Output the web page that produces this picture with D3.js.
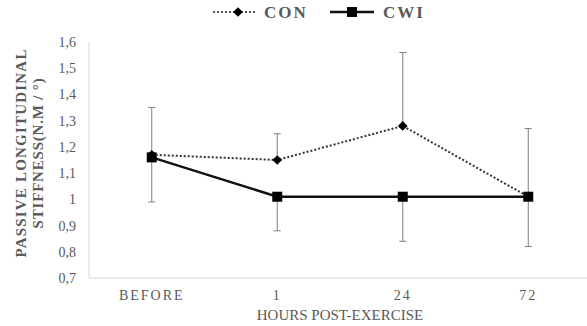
<!DOCTYPE html>
<html>
<head>
<meta charset="utf-8">
<script src="https://cdn.jsdelivr.net/npm/d3@7"></script>
<style>
  html, body { margin: 0; padding: 0; background: #fff; }
  svg { display: block; font-family: "Liberation Serif", "Times New Roman", serif; }
</style>
</head>
<body>
<svg id="chart" width="587" height="326"></svg>
<script>
// Time points after exercise
const categories = ["BEFORE", "1", "24", "72"];
// Passive longitudinal stiffness, means per group
const conValues = [1.17, 1.15, 1.28, 1.01];
const cwiValues = [1.16, 1.01, 1.01, 1.01];
// Standard deviations: CON shown upward, CWI shown downward
const conSD = [0.18, 0.10, 0.28, 0.26];
const cwiSD = [0.17, 0.13, 0.17, 0.19];
// Y-axis tick values and their labels (comma decimals)
const yTicks = [0.7, 0.8, 0.9, 1.0, 1.1, 1.2, 1.3, 1.4, 1.5, 1.6];
const yTickLabels = ["0,7", "0,8", "0,9", "1", "1,1", "1,2", "1,3", "1,4", "1,5", "1,6"];

const svg = d3.select("#chart");
const textColor = "#595959";
const gridColor = "#d9d9d9";
const fontFamily = "'Liberation Serif', 'Times New Roman', serif";

const plot = { left: 89, right: 591, top: 42, bottom: 278 };

const x = d3.scaleBand().domain(categories).range([plot.left, plot.right]).padding(0);
const cx = d => x(d) + x.bandwidth() / 2;
const y = d3.scaleLinear().domain([0.7, 1.6]).range([plot.bottom, plot.top]);

// Axis lines
svg.append("line")
  .attr("x1", plot.left).attr("x2", plot.left)
  .attr("y1", plot.top).attr("y2", plot.bottom)
  .attr("stroke", gridColor).attr("stroke-width", 1);
svg.append("line")
  .attr("x1", plot.left).attr("x2", plot.right)
  .attr("y1", plot.bottom).attr("y2", plot.bottom)
  .attr("stroke", gridColor).attr("stroke-width", 1);

// Y tick labels
const yAxis = d3.axisLeft(y)
  .tickValues(yTicks)
  .tickSize(0)
  .tickPadding(13)
  .tickFormat((d, i) => yTickLabels[i]);
const gy = svg.append("g").attr("transform", `translate(${plot.left},0)`).call(yAxis);
gy.select(".domain").remove();
gy.selectAll("text")
  .attr("fill", textColor)
  .style("font-size", "14px")
  .style("font-family", fontFamily);

// X category labels
const xAxis = d3.axisBottom(x).tickSize(0).tickPadding(12);
const gx = svg.append("g").attr("transform", `translate(0,${plot.bottom})`).call(xAxis);
gx.select(".domain").remove();
gx.selectAll("text")
  .attr("fill", textColor)
  .style("font-size", "14px")
  .style("letter-spacing", "2px")
  .style("font-family", fontFamily);

// Axis titles
svg.append("text")
  .attr("x", (plot.left + plot.right) / 2).attr("y", 320)
  .attr("text-anchor", "middle")
  .attr("fill", textColor)
  .style("font-size", "15px")
  .text("HOURS POST-EXERCISE");

const yTitle = svg.append("text")
  .attr("transform", "translate(0,153) rotate(-90)")
  .attr("text-anchor", "middle")
  .attr("fill", textColor)
  .style("font-size", "15px")
  .style("font-weight", "bold")
  .style("letter-spacing", "1.2px");
yTitle.append("tspan").attr("x", 0).attr("y", 26).text("PASSIVE LONGITUDINAL");
yTitle.append("tspan").attr("x", 0).attr("y", 43).style("letter-spacing", "0.8px").text("STIFFNESS(N.M / °)");

// Error bars
const errColor = "#7f7f7f";
function errorBars(values, sd, dir) {
  const g = svg.append("g");
  categories.forEach((c, i) => {
    const x0 = cx(c);
    const yA = y(values[i]);
    const yB = y(values[i] + dir * sd[i]);
    g.append("line").attr("x1", x0).attr("x2", x0).attr("y1", yA).attr("y2", yB)
      .attr("stroke", errColor).attr("stroke-width", 1);
    g.append("line").attr("x1", x0 - 3.5).attr("x2", x0 + 3.5).attr("y1", yB).attr("y2", yB)
      .attr("stroke", errColor).attr("stroke-width", 1);
  });
}
errorBars(conValues, conSD, 1);
errorBars(cwiValues, cwiSD, -1);

const line = d3.line().x((d, i) => cx(categories[i])).y(d => y(d));

// CWI series: solid line with squares
svg.append("path").datum(cwiValues)
  .attr("d", line).attr("fill", "none")
  .attr("stroke", "#111").attr("stroke-width", 2.5);
svg.append("g").selectAll("rect").data(cwiValues).join("rect")
  .attr("x", (d, i) => cx(categories[i]) - 5)
  .attr("y", d => y(d) - 5)
  .attr("width", 10).attr("height", 10)
  .attr("fill", "#000");

// CON series: dotted line with diamonds
svg.append("path").datum(conValues)
  .attr("d", line).attr("fill", "none")
  .attr("stroke", "#333").attr("stroke-width", 2)
  .attr("stroke-dasharray", "2,2");
const diamond = d3.symbol().type(d3.symbolDiamond2).size(60);
svg.append("g").selectAll("path").data(conValues).join("path")
  .attr("d", diamond)
  .attr("transform", (d, i) => `translate(${cx(categories[i])},${y(d)})`)
  .attr("fill", "#000");

// Legend
const legend = svg.append("g");
legend.append("line").attr("x1", 213).attr("x2", 256).attr("y1", 12).attr("y2", 12)
  .attr("stroke", "#555").attr("stroke-width", 2).attr("stroke-dasharray", "2,2");
legend.append("path").attr("d", diamond).attr("transform", "translate(238,12)").attr("fill", "#000");
legend.append("text").attr("x", 264).attr("y", 18).attr("fill", textColor)
  .style("font-size", "17px").style("font-weight", "bold").style("letter-spacing", "2px")
  .text("CON");
legend.append("line").attr("x1", 330).attr("x2", 374).attr("y1", 12).attr("y2", 12)
  .attr("stroke", "#111").attr("stroke-width", 2.5);
legend.append("rect").attr("x", 347).attr("y", 7).attr("width", 10).attr("height", 10).attr("fill", "#000");
legend.append("text").attr("x", 383).attr("y", 18).attr("fill", textColor)
  .style("font-size", "17px").style("font-weight", "bold").style("letter-spacing", "2px")
  .text("CWI");
</script>
</body>
</html>
